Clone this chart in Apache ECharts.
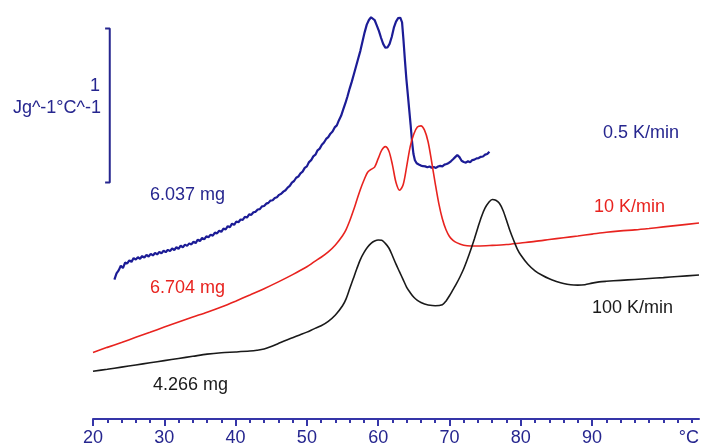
<!DOCTYPE html>
<html>
<head>
<meta charset="utf-8">
<script src="https://cdn.jsdelivr.net/npm/echarts@6/dist/echarts.min.js"></script>
<style>
  html, body { margin: 0; padding: 0; background: #ffffff; }
  #chart { width: 702px; height: 447px; }
</style>
</head>
<body>
<div id="chart"></div>
<script>
// Temperature axis ticks (°C)
const majorTicks = [20, 30, 40, 50, 60, 70, 80, 90];
const minorTicks = [20, 22, 24, 26, 28, 30, 32, 34, 36, 38, 40, 42, 44, 46, 48, 50, 52, 54, 56, 58,
  60, 62, 64, 66, 68, 70, 72, 74, 76, 78, 80, 82, 84, 86, 88, 90, 92, 94, 96, 98, 100, 102, 104];

// Specific heat flow traces, [T (°C), c (J g^-1 °C^-1, offset stacked)]
const slow05 = [
  [23.0,0.905],[23.3,0.945],[23.6,0.965],[23.9,0.995],[24.2,0.98],[24.5,1.015],[24.8,1.01],[25.1,1.03],
  [25.4,1.02],[25.7,1.045],[26.0,1.035],[26.3,1.05],[26.6,1.04],[26.9,1.058],[27.2,1.048],[27.5,1.065],
  [27.8,1.055],[28.1,1.072],[28.4,1.062],[28.7,1.078],[29.0,1.068],[29.3,1.085],[29.6,1.075],[29.9,1.092],
  [30.2,1.083],[30.5,1.098],[30.8,1.09],[31.1,1.107],[31.4,1.097],[31.7,1.115],[32.0,1.105],[32.3,1.125],
  [32.6,1.114],[32.9,1.132],[33.2,1.124],[33.5,1.14],[33.8,1.133],[34.1,1.152],[34.4,1.142],[34.7,1.165],
  [35.0,1.155],[35.3,1.175],[35.6,1.166],[35.9,1.186],[36.2,1.18],[36.5,1.197],[36.8,1.19],[37.1,1.21],
  [37.4,1.205],[37.7,1.222],[38.0,1.215],[38.3,1.236],[38.6,1.23],[38.9,1.252],[39.2,1.245],[39.5,1.268],
  [39.8,1.26],[40.1,1.282],[40.4,1.277],[40.7,1.295],[41.0,1.293],[41.3,1.312],[41.6,1.308],[41.9,1.328],
  [42.2,1.325],[42.5,1.342],[42.8,1.345],[43.1,1.36],[43.4,1.362],[43.7,1.38],[44.0,1.383],[44.3,1.398],
  [44.6,1.403],[44.9,1.418],[45.2,1.42],[45.5,1.435],[45.8,1.44],[46.1,1.455],[46.4,1.462],[46.7,1.476],
  [47.0,1.485],[47.3,1.502],[47.6,1.513],[47.9,1.535],[48.2,1.545],[48.5,1.566],[48.8,1.574],[49.1,1.595],
  [49.4,1.606],[49.7,1.63],[50.0,1.64],[50.3,1.668],[50.6,1.68],[50.9,1.705],[51.2,1.716],[51.5,1.744],
  [51.8,1.755],[52.1,1.78],[52.4,1.795],[52.7,1.818],[53.0,1.83],[53.3,1.852],[53.6,1.866],[53.9,1.893],
  [54.2,1.906],[54.5,1.94],[54.8,1.968],[55.1,2.01],[55.4,2.05],[55.7,2.095],[56.0,2.145],[56.3,2.19],
  [56.6,2.24],[56.9,2.29],[57.2,2.34],[57.5,2.39],[57.8,2.45],[58.1,2.51],[58.4,2.56],[58.7,2.59],
  [59.0,2.608],[59.2,2.612],[59.5,2.59],[59.8,2.555],[60.1,2.52],[60.4,2.475],[60.7,2.435],[61.0,2.41],
  [61.3,2.412],[61.6,2.435],[61.9,2.48],[62.2,2.54],[62.5,2.58],[62.8,2.602],[63.1,2.605],[63.35,2.575],
  [63.55,2.46],[63.75,2.33],[63.95,2.21],[64.15,2.11],[64.35,2.01],[64.55,1.91],[64.75,1.80],[64.95,1.72],
  [65.15,1.68],[65.4,1.66],[65.7,1.652],[66.0,1.645],[66.3,1.641],[66.6,1.64],[66.9,1.634],[67.2,1.639],
  [67.5,1.631],[67.8,1.636],[68.1,1.63],[68.4,1.639],[68.7,1.643],[69.0,1.64],[69.3,1.651],[69.6,1.655],
  [69.9,1.662],[70.2,1.673],[70.5,1.686],[70.8,1.70],[71.1,1.714],[71.4,1.70],[71.7,1.676],[72.0,1.668],
  [72.3,1.664],[72.6,1.673],[72.9,1.667],[73.2,1.681],[73.5,1.684],[73.8,1.692],[74.1,1.694],[74.4,1.702],
  [74.7,1.704],[75.0,1.716],[75.3,1.72],[75.6,1.735]
];

const rate10 = [
  [20,0.432],[22,0.465],[24,0.497],[26,0.530],[28,0.563],[30,0.597],[32,0.630],[34,0.662],[36,0.693],
  [38,0.727],[40,0.765],[42,0.805],[44,0.846],[46,0.890],[48,0.937],[50,0.988],[51,1.02],[52,1.05],
  [53,1.085],[54,1.13],[55,1.19],[55.5,1.23],[56,1.285],[56.5,1.35],[57,1.42],[57.5,1.49],[58,1.55],
  [58.5,1.60],[59,1.62],[59.5,1.635],[60,1.69],[60.5,1.745],[61,1.768],[61.5,1.74],[62,1.65],
  [62.5,1.535],[63,1.485],[63.5,1.52],[64,1.64],[64.5,1.77],[65,1.85],[65.5,1.895],[66,1.903],
  [66.5,1.875],[67,1.80],[67.5,1.67],[68,1.53],[68.5,1.40],[69,1.30],[69.5,1.23],[70,1.185],
  [70.5,1.16],[71,1.145],[72,1.128],[73,1.123],[74,1.123],[76,1.127],[78,1.133],[80,1.143],[82,1.153],
  [84,1.165],[86,1.177],[88,1.188],[90,1.20],[92,1.212],[94,1.221],[96,1.228],[98,1.237],[100,1.247],
  [102,1.257],[105,1.272]
];

const rate100 = [
  [20,0.31],[22,0.323],[24,0.337],[26,0.351],[28,0.365],[30,0.379],[32,0.393],[34,0.407],[36,0.421],
  [38,0.430],[40,0.435],[42,0.441],[43,0.446],[44,0.454],[45,0.47],[46,0.49],[47,0.51],[48,0.528],[49,0.546],
  [50,0.564],[51,0.585],[52,0.605],[53,0.634],[54,0.675],[55,0.735],[55.5,0.78],[56,0.845],[56.5,0.91],
  [57,0.975],[57.5,1.035],[58,1.08],[58.5,1.115],[59,1.14],[59.5,1.155],[60,1.162],[60.5,1.16],
  [61,1.14],[61.5,1.11],[62,1.06],[62.5,1.005],[63,0.955],[63.5,0.905],[64,0.855],[64.5,0.82],
  [65,0.79],[65.5,0.77],[66,0.756],[66.5,0.746],[67,0.74],[68,0.735],[69,0.742],[69.5,0.765],[70,0.80],
  [70.5,0.84],[71,0.88],[71.5,0.925],[72,0.975],[72.5,1.035],[73,1.10],[73.5,1.17],[74,1.245],
  [74.5,1.315],[75,1.37],[75.5,1.405],[76,1.425],[76.5,1.42],[77,1.40],[77.5,1.355],[78,1.29],
  [78.5,1.22],[79,1.16],[79.5,1.105],[80,1.065],[81,1.005],[82,0.962],[83,0.933],[84,0.91],[85,0.893],
  [86,0.879],[87,0.871],[88,0.869],[89,0.872],[90,0.882],[91,0.89],[92,0.894],[94,0.900],[96,0.906],
  [98,0.912],[100,0.918],[102,0.925],[105,0.935]
];

// 1 J g^-1 °C^-1 scale bracket
const scaleBar = [[21.7, 2.535], [22.35, 2.535], [22.35, 1.535], [21.7, 1.535]];

const NAVY = '#26268f';
const BLUE = '#1c1c96';
const RED = '#e8231f';
const BLACK = '#1a1a1a';
const AXIS = '#3535a8';
const FONT = '"Liberation Sans", Arial, sans-serif';

const chart = echarts.init(document.getElementById('chart'), null, { renderer: 'canvas' });

function txt(text, x, y, color, align) {
  return {
    type: 'text', x: x, y: y, silent: true,
    style: { text: text, fill: color, font: '18px ' + FONT, align: align || 'left', verticalAlign: 'middle' }
  };
}

chart.setOption({
  animation: false,
  backgroundColor: '#ffffff',
  grid: { left: 93, right: 0, top: 0, bottom: 25, containLabel: false },
  xAxis: [
    {
      type: 'value', min: 20, max: 105, position: 'bottom',
      axisLine: { show: true, lineStyle: { color: AXIS, width: 2 } },
      axisTick: { show: true, customValues: minorTicks, length: 4, lineStyle: { color: AXIS, width: 2 } },
      axisLabel: { show: false },
      splitLine: { show: false },
      name: '°C', nameLocation: 'end', nameGap: 0,
      nameTextStyle: { color: NAVY, fontSize: 18, fontFamily: FONT, align: 'right', verticalAlign: 'top', padding: [10, 0, 0, 0] }
    },
    {
      type: 'value', min: 20, max: 105, position: 'bottom', offset: 0,
      axisLine: { show: false },
      axisTick: { show: true, customValues: majorTicks, length: 7, lineStyle: { color: AXIS, width: 2 } },
      axisLabel: { show: true, customValues: majorTicks, color: NAVY, fontSize: 18, fontFamily: FONT, margin: 10 },
      splitLine: { show: false }
    }
  ],
  yAxis: { type: 'value', min: 0, max: 2.72, show: false },
  series: [
    {
      name: '0.5 K/min', type: 'line', data: slow05, showSymbol: false, smooth: false,
      lineStyle: { color: BLUE, width: 2.2 }
    },
    {
      name: '10 K/min', type: 'line', data: rate10, showSymbol: false, smooth: 0.3,
      lineStyle: { color: RED, width: 1.6 }
    },
    {
      name: '100 K/min', type: 'line', data: rate100, showSymbol: false, smooth: 0.3,
      lineStyle: { color: BLACK, width: 1.6 }
    },
    {
      name: 'scale', type: 'line', data: scaleBar, showSymbol: false,
      lineStyle: { color: NAVY, width: 2 }
    }
  ],
  graphic: [
    txt('1', 100, 86, NAVY, 'right'),
    txt('Jg^-1°C^-1', 101, 108, NAVY, 'right'),
    txt('6.037 mg', 150, 195, NAVY),
    txt('6.704 mg', 150, 288, RED),
    txt('4.266 mg', 153, 385, BLACK),
    txt('0.5 K/min', 603, 133, NAVY),
    txt('10 K/min', 594, 207, RED),
    txt('100 K/min', 592, 308, BLACK)
  ]
});
</script>
</body>
</html>
